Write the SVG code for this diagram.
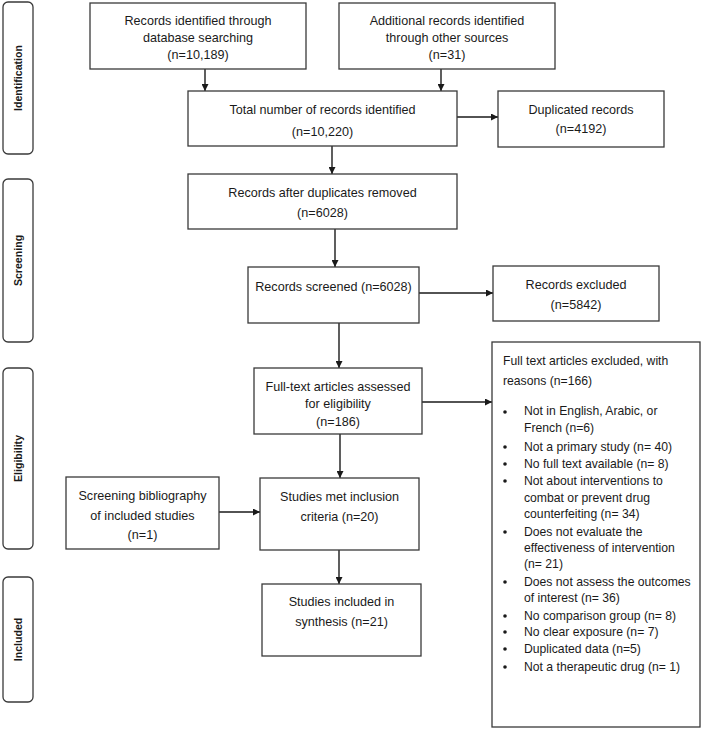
<svg xmlns="http://www.w3.org/2000/svg" width="702" height="729" viewBox="0 0 702 729">
<defs>
<style>
.box{fill:#fff;stroke:#3a3a3a;stroke-width:1.3}
.phase{fill:#fff;stroke:#3a3a3a;stroke-width:1.3}
text{font-family:"Liberation Sans",Arial,sans-serif;fill:#1a1a1a}
.t{font-size:12.6px;text-anchor:middle}
.l{font-size:12.2px}
.p{font-size:10.6px;font-weight:bold;text-anchor:middle}
.c{stroke:#1a1a1a;stroke-width:1.4;fill:none;marker-end:url(#ah)}
</style>
<marker id="ah" viewBox="0 0 10 10" refX="10" refY="5" markerWidth="7" markerHeight="7" markerUnits="userSpaceOnUse" orient="auto">
<path d="M0,0 L10,5 L0,10 z" fill="#1a1a1a"/>
</marker>
</defs>
<rect width="702" height="729" fill="#fff"/>

<g id="phase-identification"><rect class="phase" x="3" y="2" width="30" height="152" rx="5"/><text class="p" transform="translate(22,78) rotate(-90)">Identification</text></g>
<g id="phase-screening"><rect class="phase" x="3" y="179" width="30" height="163" rx="5"/><text class="p" transform="translate(22,260.5) rotate(-90)">Screening</text></g>
<g id="phase-eligibility"><rect class="phase" x="3" y="368" width="30" height="181" rx="5"/><text class="p" transform="translate(22,458.5) rotate(-90)">Eligibility</text></g>
<g id="phase-included"><rect class="phase" x="3" y="577" width="30" height="125" rx="5"/><text class="p" transform="translate(22,639.5) rotate(-90)">Included</text></g>

<g id="connectors">
<line class="c" x1="205" y1="69" x2="205" y2="91"/>
<line class="c" x1="441" y1="69" x2="441" y2="91"/>
<line class="c" x1="457" y1="117" x2="498" y2="117"/>
<line class="c" x1="332" y1="146" x2="332" y2="174"/>
<line class="c" x1="335" y1="229" x2="335" y2="267"/>
<line class="c" x1="419" y1="293" x2="493" y2="293"/>
<line class="c" x1="339" y1="323" x2="339" y2="368"/>
<line class="c" x1="422" y1="402" x2="492" y2="402"/>
<line class="c" x1="340" y1="434" x2="340" y2="478"/>
<line class="c" x1="219" y1="512" x2="260" y2="512"/>
<line class="c" x1="339" y1="550" x2="339" y2="584"/>
</g>

<g id="db-records"><rect class="box" x="90" y="3" width="216" height="66"/>
<text class="t" x="198" y="24.5">Records identified through</text>
<text class="t" x="198" y="41.5">database searching</text>
<text class="t" x="198" y="58.5">(n=10,189)</text></g>

<g id="other-records"><rect class="box" x="339" y="3" width="216" height="66"/>
<text class="t" x="447" y="24.5">Additional records identified</text>
<text class="t" x="447" y="41.5">through other sources</text>
<text class="t" x="447" y="58.5">(n=31)</text></g>

<g id="total-records"><rect class="box" x="188" y="91" width="269" height="55"/>
<text class="t" x="322.5" y="113.8">Total number of records identified</text>
<text class="t" x="322.5" y="136">(n=10,220)</text></g>

<g id="duplicates"><rect class="box" x="498" y="91" width="166" height="56"/>
<text class="t" x="581" y="113.5">Duplicated records</text>
<text class="t" x="581" y="133">(n=4192)</text></g>

<g id="after-duplicates"><rect class="box" x="188" y="174" width="269" height="55"/>
<text class="t" x="322.5" y="197">Records after duplicates removed</text>
<text class="t" x="322.5" y="217">(n=6028)</text></g>

<g id="screened"><rect class="box" x="248" y="267" width="171" height="56"/>
<text class="t" x="333.5" y="290.5">Records screened (n=6028)</text></g>

<g id="excluded"><rect class="box" x="493" y="266" width="166" height="55"/>
<text class="t" x="576" y="288.5">Records excluded</text>
<text class="t" x="576" y="308.5">(n=5842)</text></g>

<g id="fulltext"><rect class="box" x="254" y="368" width="168" height="66"/>
<text class="t" x="338" y="390.5">Full-text articles assessed</text>
<text class="t" x="338" y="407.5">for eligibility</text>
<text class="t" x="338" y="425.5">(n=186)</text></g>

<g id="fulltext-excluded"><rect class="box" x="492" y="342" width="208" height="385"/>
<text class="l" x="503" y="364.5">Full text articles excluded, with</text>
<text class="l" x="503" y="384.5">reasons (n=166)</text>
<g fill="#1a1a1a">
<circle cx="505" cy="412" r="1.8"/><circle cx="505" cy="447" r="1.8"/><circle cx="505" cy="464" r="1.8"/><circle cx="505" cy="481" r="1.8"/><circle cx="505" cy="532" r="1.8"/><circle cx="505" cy="582" r="1.8"/><circle cx="505" cy="616" r="1.8"/><circle cx="505" cy="632" r="1.8"/><circle cx="505" cy="649" r="1.8"/><circle cx="505" cy="667" r="1.8"/>
</g>
<text class="l" x="524" y="415">Not in English, Arabic, or</text>
<text class="l" x="524" y="431.5">French (n=6)</text>
<text class="l" x="524" y="450.5">Not a primary study (n= 40)</text>
<text class="l" x="524" y="467.5">No full text available (n= 8)</text>
<text class="l" x="524" y="484.5">Not about interventions to</text>
<text class="l" x="524" y="501.5">combat or prevent drug</text>
<text class="l" x="524" y="517.5">counterfeiting (n= 34)</text>
<text class="l" x="524" y="535.5">Does not evaluate the</text>
<text class="l" x="524" y="551.5">effectiveness of intervention</text>
<text class="l" x="524" y="567.5">(n= 21)</text>
<text class="l" x="524" y="585.5">Does not assess the outcomes</text>
<text class="l" x="524" y="601.5">of interest (n= 36)</text>
<text class="l" x="524" y="619.5">No comparison group (n= 8)</text>
<text class="l" x="524" y="635.5">No clear exposure (n= 7)</text>
<text class="l" x="524" y="652.5">Duplicated data (n=5)</text>
<text class="l" x="524" y="670.5">Not a therapeutic drug (n= 1)</text></g>

<g id="bibliography"><rect class="box" x="66" y="477" width="153" height="72"/>
<text class="t" x="142.5" y="500">Screening bibliography</text>
<text class="t" x="142.5" y="519.5">of included studies</text>
<text class="t" x="142.5" y="538.5">(n=1)</text></g>

<g id="met-criteria"><rect class="box" x="260" y="478" width="159" height="72"/>
<text class="t" x="339.5" y="501">Studies met inclusion</text>
<text class="t" x="339.5" y="520.5">criteria (n=20)</text></g>

<g id="included"><rect class="box" x="262" y="584" width="159" height="72"/>
<text class="t" x="341.5" y="606">Studies included in</text>
<text class="t" x="341.5" y="626">synthesis (n=21)</text></g>
</svg>
